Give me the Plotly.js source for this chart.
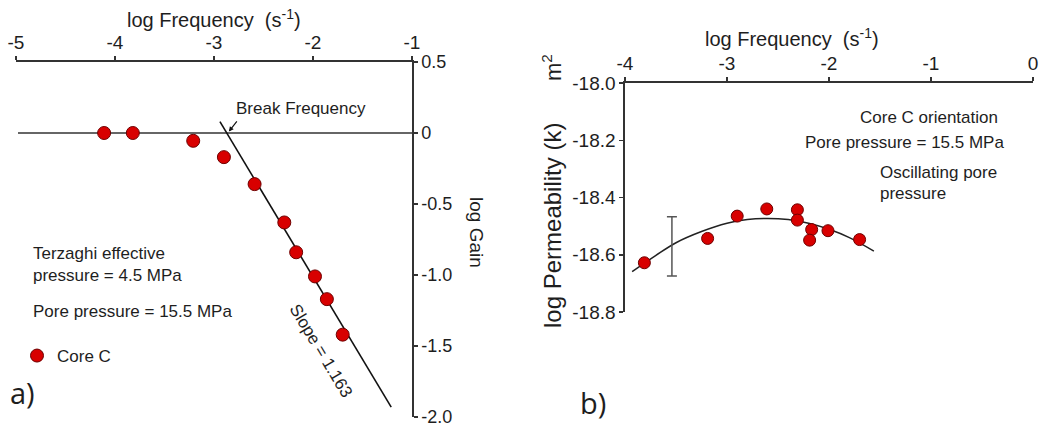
<!DOCTYPE html>
<html>
<head>
<meta charset="utf-8">
<script src="https://cdn.plot.ly/plotly-3.0.1.min.js"></script>
<style>html,body{margin:0;padding:0;background:#fff;}#chart{width:1039px;height:427px;}</style>
</head>
<body>
<div id="chart"></div>
<script>
// ---- Panel a) data ----
const gainFreq = [-4.11, -3.82, -3.21, -2.90, -2.59, -2.29, -2.17, -1.98, -1.86, -1.70];
const gainVal  = [0.0, 0.0, -0.055, -0.17, -0.36, -0.63, -0.84, -1.01, -1.17, -1.42];
const flatLineX = [-4.98, -1.0];
const flatLineY = [0, 0];
const slopeLineX = [-2.94, -1.21];
const slopeLineY = [0.08, -1.93];
const xTicksA = [-5, -4, -3, -2, -1];
const xTickTextA = ['-5', '-4', '-3', '-2', '-1'];
const yTicksA = [0.5, 0, -0.5, -1.0, -1.5, -2.0];
const yTickTextA = ['0.5', '0', '-0.5', '-1.0', '-1.5', '-2.0'];

// ---- Panel b) data ----
const permFreq = [-3.81, -3.19, -2.90, -2.61, -2.31, -2.31, -2.17, -2.19, -2.01, -1.70];
const permVal  = [-18.628, -18.543, -18.465, -18.440, -18.443, -18.479, -18.512, -18.549, -18.516, -18.547];
const fitX = [-3.93, -3.70, -3.50, -3.25, -3.00, -2.80, -2.60, -2.40, -2.20, -2.00, -1.80, -1.56];
const fitY = [-18.659, -18.603, -18.558, -18.519, -18.490, -18.477, -18.473, -18.477, -18.490, -18.511, -18.540, -18.587];
const errX = [-3.54];
const errY = [-18.5705];
const errSize = [0.1035];
const xTicksB = [-4, -3, -2, -1, 0];
const xTickTextB = ['-4', '-3', '-2', '-1', '0'];
const yTicksB = [-18.0, -18.2, -18.4, -18.6, -18.8];
const yTickTextB = ['-18.0', '-18.2', '-18.4', '-18.6', '-18.8'];

const W = 1039, H = 427;
const px = v => v / W;
const py = v => 1 - v / H;

const FONT = 'Liberation Sans, Arial, sans-serif';
const INK = '#1e1e1e';
const AX = '#333';
const RED = '#d80000';
const RED_EDGE = '#6e0000';

const traces = [
  {x: flatLineX, y: flatLineY, xaxis: 'x', yaxis: 'y', mode: 'lines', line: {color: AX, width: 1.6}, showlegend: false, hoverinfo: 'skip'},
  {x: slopeLineX, y: slopeLineY, xaxis: 'x', yaxis: 'y', mode: 'lines', line: {color: '#111', width: 1.6}, showlegend: false, hoverinfo: 'skip'},
  {x: gainFreq, y: gainVal, xaxis: 'x', yaxis: 'y', mode: 'markers', name: 'Core C',
   marker: {size: 13, color: RED, line: {color: RED_EDGE, width: 1}}, showlegend: true},
  {x: fitX, y: fitY, xaxis: 'x2', yaxis: 'y2', mode: 'lines', line: {color: '#222', width: 1.5, shape: 'spline'}, showlegend: false, hoverinfo: 'skip'},
  {x: errX, y: errY, xaxis: 'x2', yaxis: 'y2', mode: 'markers', marker: {size: 1, color: 'rgba(0,0,0,0)'},
   error_y: {type: 'data', array: errSize, visible: true, color: '#555', thickness: 1.5, width: 5}, showlegend: false, hoverinfo: 'skip'},
  {x: permFreq, y: permVal, xaxis: 'x2', yaxis: 'y2', mode: 'markers',
   marker: {size: 12, color: RED, line: {color: RED_EDGE, width: 1}}, showlegend: false}
];

const axisCommon = {
  showgrid: false, zeroline: false, showline: true, linecolor: AX, linewidth: 1.6,
  ticks: 'outside', ticklen: 4, tickwidth: 1.5, tickcolor: AX, ticklabeloverflow: 'allow',
  tickfont: {family: FONT, size: 19, color: INK}, fixedrange: true
};

function ann(text, x, y, opts) {
  return Object.assign({text: text, x: px(x), y: py(y), xref: 'paper', yref: 'paper', showarrow: false,
    xanchor: 'left', yanchor: 'middle', font: {family: FONT, size: 17, color: INK}}, opts || {});
}

const annotations = [
  ann('log Frequency  (s<sup>-1</sup>)', 214, 18, {xanchor: 'center', font: {family: FONT, size: 20, color: INK}}),
  ann('log Frequency  (s<sup>-1</sup>)', 792, 38, {xanchor: 'center', font: {family: FONT, size: 20, color: INK}}),
  ann('log Gain', 477, 232, {xanchor: 'center', textangle: 90, font: {family: FONT, size: 19, color: INK}}),
  ann('log Permeability (k)', 552, 226, {xanchor: 'center', textangle: -90, font: {family: FONT, size: 24, color: INK}}),
  ann('m<sup>2</sup>', 552, 68, {xanchor: 'center', textangle: -90, font: {family: FONT, size: 22, color: INK}}),
  ann('Break Frequency', 234, 108, {font: {family: FONT, size: 17, color: INK}}),
  {x: -2.85, y: 0.01, xref: 'x', yref: 'y', text: ' ', showarrow: true, ax: 11, ay: -14,
   arrowhead: 2, arrowsize: 0.8, arrowwidth: 1.2, arrowcolor: '#111', standoff: 0},
  ann('Slope = 1.163', 321, 350, {xanchor: 'center', textangle: 59, font: {family: FONT, size: 17, color: INK}}),
  ann('Terzaghi effective', 31, 253),
  ann('pressure = 4.5 MPa', 31, 275),
  ann('Pore pressure = 15.5 MPa', 31, 311),
  ann('a)', 8, 392, {font: {family: 'Open Sans, sans-serif', size: 29, color: INK}}),
  ann('Core C orientation', 858, 118),
  ann('Pore pressure = 15.5 MPa', 803, 143),
  ann('Oscillating pore', 878, 172),
  ann('pressure', 878, 193),
  ann('b)', 578, 402, {font: {family: 'Open Sans, sans-serif', size: 29, color: INK}})
];

const layout = {
  width: W, height: H,
  margin: {l: 0, r: 0, t: 0, b: 0},
  paper_bgcolor: '#fff', plot_bgcolor: 'rgba(0,0,0,0)',
  font: {family: FONT, color: INK},
  showlegend: true,
  legend: {x: px(17), y: py(338), xanchor: 'left', yanchor: 'top', bgcolor: 'rgba(0,0,0,0)',
           font: {family: FONT, size: 17, color: INK}, itemwidth: 30},
  xaxis: Object.assign({}, axisCommon, {domain: [px(16), px(412)], range: [-5, -1], side: 'top', anchor: 'y',
    tickmode: 'array', tickvals: xTicksA, ticktext: xTickTextA, ticklabelstandoff: 0}),
  yaxis: Object.assign({}, axisCommon, {domain: [1 - 417 / H, 1 - 62 / H], range: [-2.0, 0.5], side: 'right', anchor: 'x',
    tickmode: 'array', tickvals: yTicksA, ticktext: yTickTextA, tickfont: {family: FONT, size: 18, color: INK}}),
  xaxis2: Object.assign({}, axisCommon, {domain: [px(625), px(1033)], range: [-4, 0], side: 'top', anchor: 'y2',
    tickmode: 'array', tickvals: xTicksB, ticktext: xTickTextB, ticklabelstandoff: 0}),
  yaxis2: Object.assign({}, axisCommon, {domain: [1 - 312 / H, 1 - 83 / H], range: [-18.8, -18.0], side: 'left', anchor: 'x2',
    tickmode: 'array', tickvals: yTicksB, ticktext: yTickTextB}),
  annotations: annotations
};

Plotly.newPlot('chart', traces, layout, {displayModeBar: false, staticPlot: true});
</script>
</body>
</html>
